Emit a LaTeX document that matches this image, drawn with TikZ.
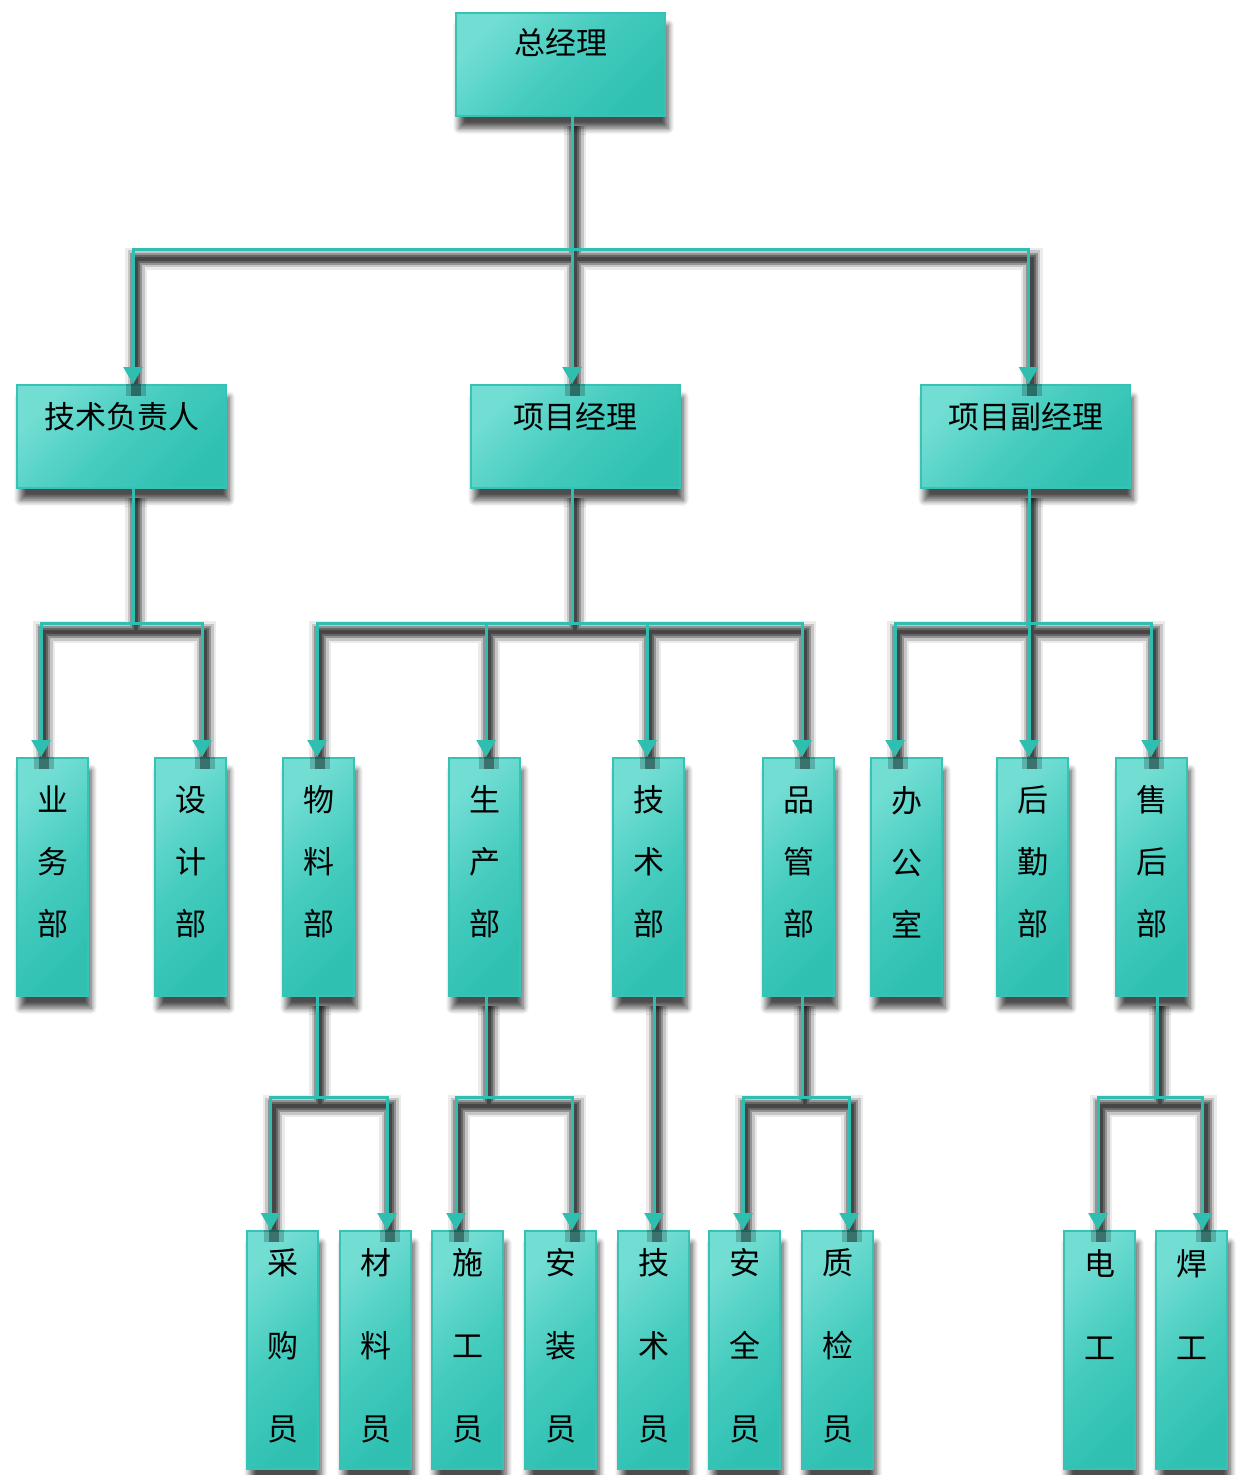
\documentclass[tikz,border=0pt]{standalone}
\usepackage{fontspec}
\newfontfamily\cjk{Noto Sans CJK SC}
\usetikzlibrary{arrows.meta,shadows.blur}
\pgfdeclarelayer{lineshadow}
\pgfsetlayers{lineshadow,main}
\definecolor{tealL}{HTML}{72DDD3}
\definecolor{tealM}{HTML}{45CCBE}
\definecolor{tealD}{HTML}{2FC0B2}
\definecolor{tealE}{HTML}{36C2B4}
\definecolor{lineC}{HTML}{2EBFB0}
\definecolor{shA}{HTML}{EBEBEB}
\definecolor{shB}{HTML}{C6C6C6}
\definecolor{shC}{HTML}{939393}
\definecolor{shD}{HTML}{666666}
\definecolor{shE}{HTML}{464646}
\begin{document}
\begin{tikzpicture}[x=1pt,y=-1pt,
  boxbase/.style={draw=tealE, line width=2.2pt, top color=tealL, bottom color=tealD,
    middle color=tealM, shading angle=45, inner sep=0pt, anchor=north west,
    blur shadow={shadow xshift=3pt, shadow yshift=-12pt, shadow blur radius=6pt,
      shadow opacity=70, shadow blur steps=8}},
  widebox/.style={boxbase, minimum width=209pt, minimum height=103pt},
  tallbox/.style={boxbase, minimum width=71pt, minimum height=238pt},
  htext/.style={font=\cjk\fontsize{31}{31}\selectfont, inner sep=0pt, text=black},
  vtext/.style={font=\cjk\fontsize{31}{#1}\selectfont, inner sep=0pt, align=center, text=black},
  conn/.style={draw=lineC, line width=3pt, -{Triangle[width=19pt,length=17pt]}},
  tipshade/.style={draw=black, opacity=#1},
]
\useasboundingbox (0,0) rectangle (1242,1475);

% bus levels
\coordinate (b1) at (0,249.5);
\coordinate (b2) at (0,623);
\coordinate (b3) at (0,1097);

% management boxes
\node[widebox] (zjl)   at (455,12)  {};
\node[widebox] (jsfzr) at (16,384)  {};
\node[widebox] (xmjl)  at (470,384) {};
\node[widebox] (xmfjl) at (920,384) {};

% department boxes
\foreach \n/\x in {ywb/16, sjb/154, wlb/282, scb/448, jsb/612, pgb/762, bgs/870, hqb/996, shb/1115}
  \node[tallbox] (\n) at (\x,757) {};

% staff boxes
\foreach \n/\x in {cgy/246, cly/339, sgy/431, azy/524, jsy/617, aqy/708, zjy/801, dg/1063, hg/1155}
  \node[tallbox] (\n) at (\x,1230) {};

% connectors: parent / parent offset / bus / child / child offset
\def\links{zjl/11.5/b1/jsfzr/11.5, zjl/11.5/b1/xmjl/-3.5, zjl/11.5/b1/xmfjl/3,
  jsfzr/11.5/b2/ywb/-11.5, jsfzr/11.5/b2/sjb/11.5,
  xmjl/-3.5/b2/wlb/-1.5, xmjl/-3.5/b2/scb/1.5, xmjl/-3.5/b2/jsb/-1.5, xmjl/-3.5/b2/pgb/3.5,
  xmfjl/3.5/b2/bgs/-11.5, xmfjl/3.5/b2/hqb/-3.5, xmfjl/3.5/b2/shb/-0.5,
  wlb/-1.5/b3/cgy/-12, wlb/-1.5/b3/cly/11.5,
  scb/1.5/b3/sgy/-11.5, scb/1.5/b3/azy/11.5,
  jsb/5.5/b3/jsy/0.5,
  pgb/3.5/b3/aqy/-1.5, pgb/3.5/b3/zjy/11.5,
  shb/5.5/b3/dg/-1.5, shb/5.5/b3/hg/11}

% soft drop shadows of the connectors, behind the boxes, drawn ring by ring
\begin{pgfonlayer}{lineshadow}
\foreach \w/\col in {22/shA, 17/shB, 12/shC, 8/shD, 4/shE} {
  \foreach \p/\ps/\b/\c/\cs in \links {
    \path ([xshift=\ps pt]\p.south) coordinate (ps) ([xshift=\cs pt]\c.north) coordinate (ce);
    \draw[transform canvas={xshift=3pt,yshift=-9pt}, line width=\w pt, draw=\col]
      (ps) -- (ps |- \b) -| (ce);
  }
}
\end{pgfonlayer}

% connectors with their shadow reaching into the box tops
\foreach \p/\ps/\b/\c/\cs in \links {
  \path ([xshift=\ps pt]\p.south) coordinate (ps) ([xshift=\cs pt]\c.north) coordinate (ce);
  \draw[tipshade=.2, line width=20pt] ([xshift=3pt]ce) -- ++(0,12);
  \draw[tipshade=.35, line width=10pt] ([xshift=3pt]ce) -- ++(0,12);
  \draw[conn] (ps) -- (ps |- \b) -| (ce);
}

% labels
\node[htext] (t-zjl)   at ([yshift=-31pt]zjl.north)   {总经理};
\node[htext] (t-jsfzr) at ([yshift=-33pt]jsfzr.north) {技术负责人};
\node[htext] (t-xmjl)  at ([yshift=-33pt]xmjl.north)  {项目经理};
\node[htext] (t-xmfjl) at ([yshift=-33pt]xmfjl.north) {项目副经理};

\node[vtext=62] (t-ywb) at (ywb.center |- 0,862) {业\\务\\部};
\node[vtext=62] (t-sjb) at (sjb.center |- 0,862) {设\\计\\部};
\node[vtext=62] (t-wlb) at (wlb.center |- 0,862) {物\\料\\部};
\node[vtext=62] (t-scb) at (scb.center |- 0,862) {生\\产\\部};
\node[vtext=62] (t-jsb) at (jsb.center |- 0,862) {技\\术\\部};
\node[vtext=62] (t-pgb) at (pgb.center |- 0,862) {品\\管\\部};
\node[vtext=62] (t-bgs) at (bgs.center |- 0,862) {办\\公\\室};
\node[vtext=62] (t-hqb) at (hqb.center |- 0,862) {后\\勤\\部};
\node[vtext=62] (t-shb) at (shb.center |- 0,862) {售\\后\\部};

\node[vtext=83] (t-cgy) at (cgy.center |- 0,1346) {采\\购\\员};
\node[vtext=83] (t-cly) at (cly.center |- 0,1346) {材\\料\\员};
\node[vtext=83] (t-sgy) at (sgy.center |- 0,1346) {施\\工\\员};
\node[vtext=83] (t-azy) at (azy.center |- 0,1346) {安\\装\\员};
\node[vtext=83] (t-jsy) at (jsy.center |- 0,1346) {技\\术\\员};
\node[vtext=83] (t-aqy) at (aqy.center |- 0,1346) {安\\全\\员};
\node[vtext=83] (t-zjy) at (zjy.center |- 0,1346) {质\\检\\员};
\node[vtext=84] (t-dg)  at (dg.center |- 0,1305)  {电\\工};
\node[vtext=84] (t-hg)  at (hg.center |- 0,1305)  {焊\\工};
\end{tikzpicture}
\end{document}
